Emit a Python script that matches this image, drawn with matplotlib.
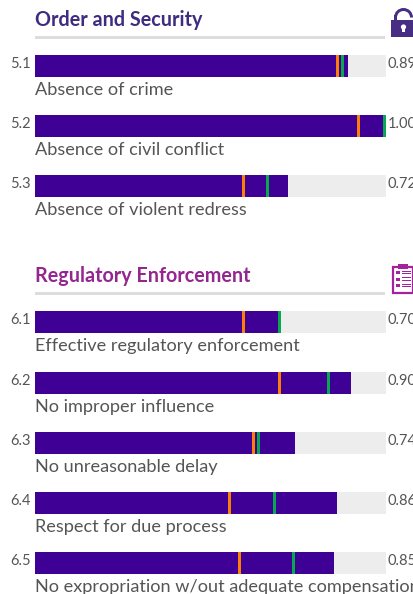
import matplotlib
matplotlib.use("Agg")
import matplotlib.pyplot as plt
from matplotlib.patches import Rectangle, Wedge, Circle

codes_a = ["5.1", "5.2", "5.3"]
labels_a = ["Absence of crime", "Absence of civil conflict", "Absence of violent redress"]
scores_a = [0.892, 1.00, 0.72]
orange_a = [0.862, 0.922, 0.594]
green_a = [0.876, 0.996, 0.662]
score_text_a = ["0.89", "1.00", "0.72"]

codes_b = ["6.1", "6.2", "6.3", "6.4", "6.5"]
labels_b = ["Effective regulatory enforcement", "No improper influence", "No unreasonable delay",
            "Respect for due process", "No expropriation w/out adequate compensation"]
scores_b = [0.70, 0.90, 0.74, 0.86, 0.852]
orange_b = [0.594, 0.697, 0.622, 0.554, 0.583]
green_b = [0.697, 0.836, 0.637, 0.682, 0.736]
score_text_b = ["0.70", "0.90", "0.74", "0.86", "0.85"]

title_a = "Order and Security"
title_b = "Regulatory Enforcement"

W, H = 414, 594
PURPLE, TRACK = "#3F0095", "#EDEDED"
ORANGE, GREEN = "#FB7F08", "#07A84F"
GREY = "#555555"
plt.rcParams["font.family"] = ["Lato", "Carlito", "Open Sans", "DejaVu Sans"]

fig = plt.figure(figsize=(W / 100, H / 100), dpi=100)
# axes: x is the 0-1 score across the bar track, y is measured downward in pixels
ax = fig.add_axes([35 / W, 0, 351 / W, 1])
ax.set_xlim(0, 1)
ax.set_ylim(H, 0)
ax.axis("off")
px = 1 / 351
tick_w = 3 * px


def section(top, codes, labels, scores, orange, green, texts):
    for i, code in enumerate(codes):
        y0 = top[i]
        yc = y0 + 11
        ax.barh(yc, 1, height=22, color=TRACK, linewidth=0)
        ax.barh(yc, scores[i], height=22, color=PURPLE, linewidth=0)
        ax.barh(yc, tick_w, left=orange[i] - tick_w / 2, height=22, color=ORANGE, linewidth=0)
        ax.barh(yc, tick_w, left=green[i] - tick_w / 2, height=22, color=GREEN, linewidth=0)
        ax.text(-4 * px, yc - 2, code, ha="right", va="center", fontsize=10.5, color=GREY)
        ax.text(1 + 2 * px, yc - 2, texts[i], ha="left", va="center", fontsize=10.5, color=GREY, clip_on=False)
        ax.text(0, y0 + 35, labels[i], ha="left", va="center", fontsize=13.1, color=GREY)


section([55, 115, 175], codes_a, labels_a, scores_a, orange_a, green_a, score_text_a)
section([311, 372, 432, 492, 552], codes_b, labels_b, scores_b, orange_b, green_b, score_text_b)

ax.text(0, 20, title_a, ha="left", va="center", fontsize=14.2, fontweight="bold", color="#3D2C80")
ax.text(0, 276, title_b, ha="left", va="center", fontsize=14.2, fontweight="bold", color="#93278F")
ax.add_patch(Rectangle((0, 36), 350 * px, 3, color="#DDDDDD", lw=0))
ax.add_patch(Rectangle((0, 292), 350 * px, 3, color="#DDDDDD", lw=0))

# icons drawn in figure pixel coordinates
ia = fig.add_axes([0, 0, 1, 1])
ia.set_xlim(0, W)
ia.set_ylim(H, 0)
ia.axis("off")
ia.patch.set_alpha(0)
LOCK = "#482D85"
ia.add_patch(Rectangle((391, 20), 23, 17, color=LOCK, lw=0))
ia.add_patch(Wedge((403.5, 17.5), 9.5, 180, 360, width=3, color=LOCK, lw=0))
ia.add_patch(Rectangle((394, 15), 3, 6, color=LOCK, lw=0))
ia.add_patch(Circle((403.5, 27), 2.6, color="white", lw=0))
ia.add_patch(Rectangle((402.3, 27), 2.4, 5, color="white", lw=0))
CLIP = "#A3239B"
ia.add_patch(Rectangle((393, 267), 20, 26, facecolor="white", edgecolor=CLIP, lw=1.6))
ia.add_patch(Rectangle((398, 264), 10, 5, color=CLIP, lw=0))
for yy in (271, 277.5, 284):
    ia.add_patch(Rectangle((396, yy), 4, 3, color=CLIP, lw=0))
    ia.add_patch(Rectangle((402, yy - 0.5), 9, 1.2, color=CLIP, lw=0))
    ia.add_patch(Rectangle((402, yy + 2), 9, 1.2, color=CLIP, lw=0))

fig.savefig("out.png", dpi=100)
